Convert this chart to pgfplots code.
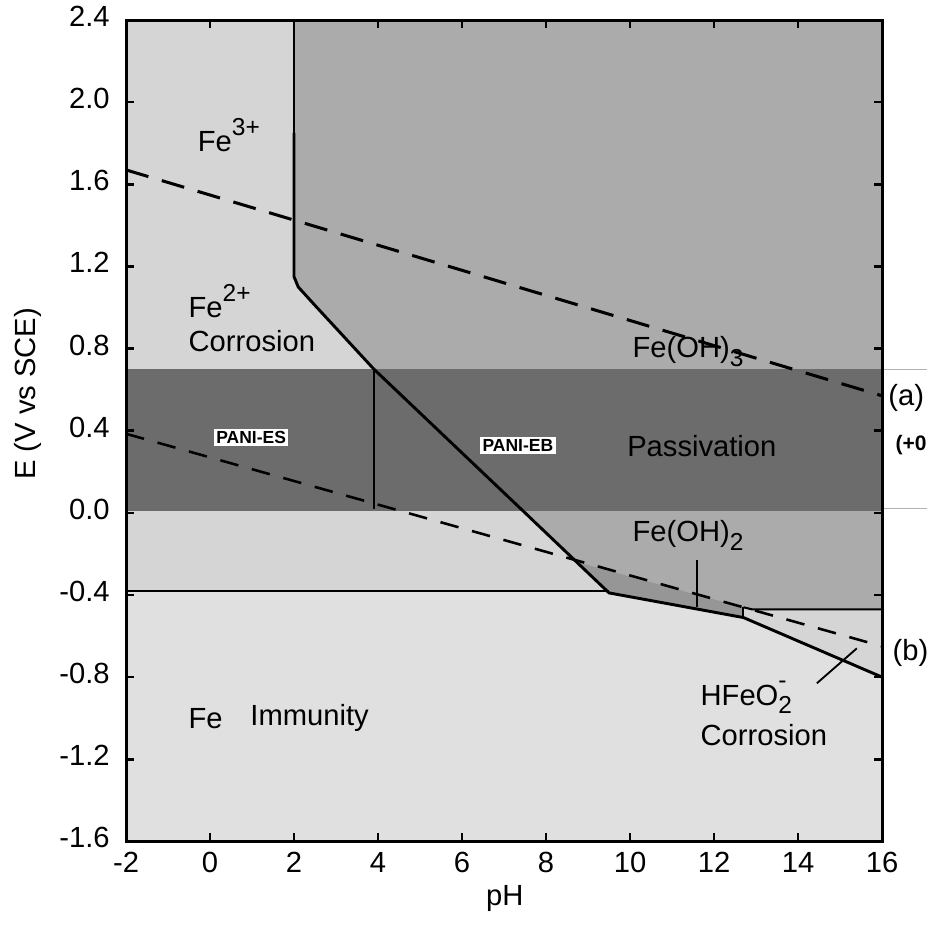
\documentclass[border=0pt]{standalone}
\usepackage{fontspec}
\setmainfont{Liberation Sans}
\usepackage{pgfplots}
\pgfplotsset{compat=1.18}

\definecolor{immreg}{HTML}{E0E0E0}
\definecolor{ionreg}{HTML}{D5D5D5}
\definecolor{hydrox}{HTML}{ABABAB}
\definecolor{sliver}{HTML}{969696}
\definecolor{band}{HTML}{6C6C6C}

\newcommand\lf{\fontsize{12.5}{15}\selectfont}
\newcommand\sups[1]{\raisebox{0.55em}{\fontsize{10.5}{12}\selectfont #1}}
\newcommand\subs[1]{\raisebox{-0.3em}{\fontsize{10.5}{12}\selectfont #1}}

\begin{document}
\begin{tikzpicture}[lab/.style={font=\lf, anchor=west, inner sep=0pt}]
\begin{axis}[
  scale only axis, width=324pt, height=352pt,
  xmin=-2, xmax=16, ymin=-1.6, ymax=2.4,
  xtick={-2,0,2,4,6,8,10,12,14,16},
  xticklabels={-2,0,2,4,6,8,10,12,14,16},
  ytick={-1.6,-1.2,-0.8,-0.4,0,0.4,0.8,1.2,1.6,2.0,2.4},
  yticklabels={-1.6,-1.2,-0.8,-0.4,0.0,0.4,0.8,1.2,1.6,2.0,2.4},
  tick align=inside, major tick length=3.6pt,
  every tick/.style={black, line width=1.1pt},
  axis line style={line width=1.3pt},
  axis on top, clip=false,
  typeset ticklabels with strut,
  tick label style={font=\fontsize{12.5}{14}\selectfont},
  yticklabel style={xshift=-3.5pt},
  xticklabel style={yshift=0pt},
  xlabel={pH}, ylabel={E (V vs SCE)},
  every axis x label/.style={at={(rel axis cs:0.501,-0.069)},anchor=center,font=\fontsize{12.5}{14}\selectfont},
  every axis y label/.style={at={(rel axis cs:-0.1296,0.545)},rotate=90,anchor=center,font=\fontsize{12.5}{14}\selectfont},
]
% regions
\addplot[draw=none, fill=immreg] coordinates {(-2,-1.6)(16,-1.6)(16,2.4)(-2,2.4)} -- cycle;
\addplot[draw=none, fill=ionreg] coordinates {(-2,-0.38)(9.5,-0.38)(12.7,-0.51)(16,-0.80)(16,2.4)(-2,2.4)} -- cycle;
\addplot[draw=none, fill=hydrox] coordinates {(2,2.4)(16,2.4)(16,-0.47)(12.9,-0.47)(12.7,-0.46)(8.75,-0.24)(7.5,0)(3.9,0.70)(2.5,1.01)(2.1,1.10)(2,1.15)} -- cycle;
\addplot[draw=none, fill=sliver] coordinates {(8.75,-0.24)(9.5,-0.39)(12.7,-0.51)(12.7,-0.46)} -- cycle;
\addplot[draw=none, fill=band] coordinates {(-2,0.01)(16,0.01)(16,0.70)(-2,0.70)} -- cycle;

% boundaries
\addplot[black, line width=0.5pt] coordinates {(2,2.4)(2,1.85)};
\addplot[black, line width=1.25pt] coordinates {(2,1.85)(2,1.15)(2.1,1.10)(2.5,1.01)(3.9,0.70)(7.5,0)(9.5,-0.39)(12.7,-0.51)(16,-0.80)};
\addplot[black, line width=0.9pt] coordinates {(-2,-0.38)(9.5,-0.38)};
\addplot[black, line width=0.9pt] coordinates {(12.7,-0.46)(12.9,-0.47)(16,-0.47)};
\addplot[black, line width=0.9pt] coordinates {(12.7,-0.46)(12.7,-0.51)};
\addplot[black, line width=0.8pt] coordinates {(3.9,0.70)(3.9,0.02)};
\addplot[black, line width=0.7pt] coordinates {(11.6,-0.23)(11.6,-0.46)};
\addplot[black, line width=0.8pt] coordinates {(14.45,-0.83)(15.4,-0.66)};
% water lines (a) and (b)
\addplot[black, line width=1.3pt, dash pattern=on 10pt off 6pt] coordinates {(-2,1.67)(16,0.57)};
\addplot[black, line width=1.1pt, dash pattern=on 8pt off 6pt] coordinates {(-2,0.385)(16,-0.65)};
% band limits outside the frame
\addplot[gray!60, line width=0.5pt] coordinates {(16,0.70)(17.1,0.70)};
\addplot[gray!60, line width=0.5pt] coordinates {(16,0.02)(17.1,0.02)};

% labels
\node[lab] at (axis cs:-0.3,1.84) {Fe\sups{3+}};
\node[lab] at (axis cs:-0.52,1.03) {Fe\sups{2+}};
\node[lab] at (axis cs:-0.52,0.835) {Corrosion};
\node[lab] at (axis cs:10.05,0.785) {Fe(OH)\subs{3}};
\node[lab] at (axis cs:10.05,-0.11) {Fe(OH)\subs{2}};
\node[font=\lf] at (axis cs:11.71,0.327) {Passivation};
\node[fill=white, inner sep=1pt, font=\bfseries\fontsize{7.5}{9}\selectfont] at (axis cs:0.98,0.366) {PANI-ES};
\node[fill=white, inner sep=1pt, font=\bfseries\fontsize{7.5}{9}\selectfont] at (axis cs:7.33,0.327) {PANI-EB};
\node[lab] at (axis cs:11.67,-0.90) {HFeO\rlap{\sups{-}}\subs{2}};
\node[lab] at (axis cs:11.67,-1.08) {Corrosion};
\node[lab] at (axis cs:-0.52,-1.0) {Fe};
\node[lab] at (axis cs:0.95,-1.0) {Immunity};
\node[lab] at (axis cs:16.14,0.56) {(a)};
\node[lab] at (axis cs:16.24,-0.68) {(b)};
\node[font=\bfseries\fontsize{9}{11}\selectfont, anchor=west, inner sep=0pt] at (axis cs:16.31,0.33) {(+0};

\coordinate (bbBL) at (rel axis cs:-0.1667,-0.1037);
\coordinate (bbTR) at (rel axis cs:1.0595,1.0244);
\end{axis}
\pgfresetboundingbox
\path[use as bounding box] (bbBL) rectangle (bbTR);
\end{tikzpicture}
\end{document}
